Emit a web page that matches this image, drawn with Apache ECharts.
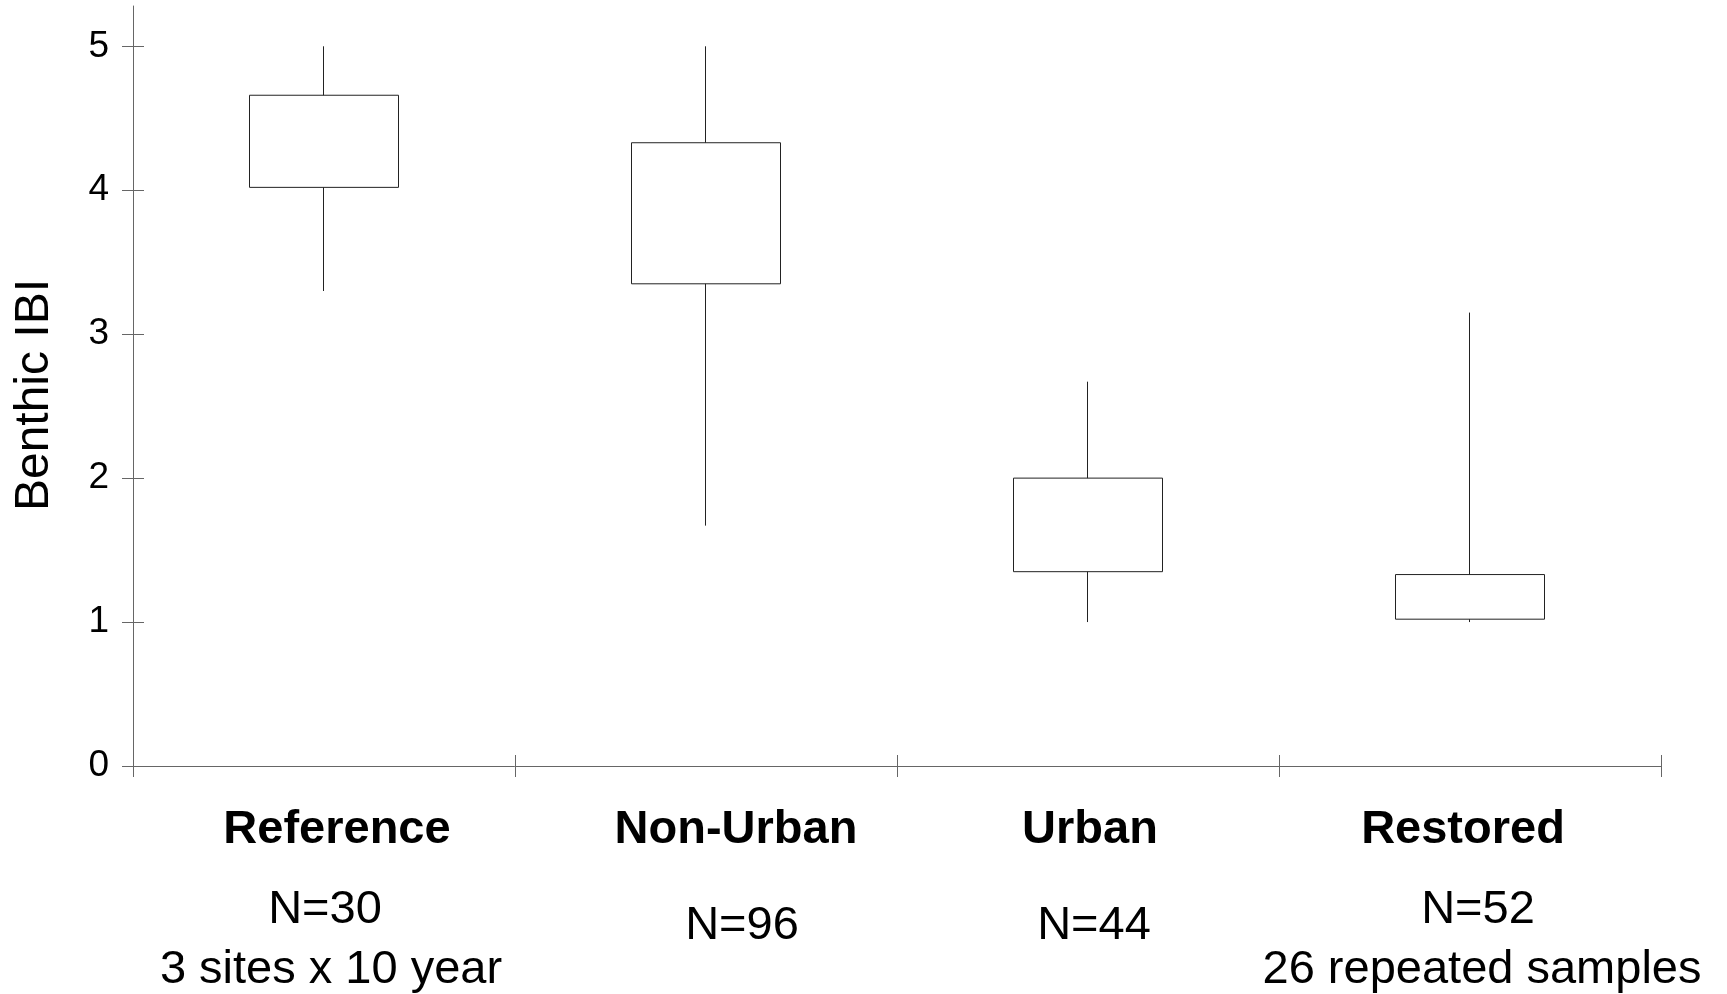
<!DOCTYPE html>
<html>
<head>
<meta charset="utf-8">
<title>Benthic IBI by site type</title>
<script src="https://cdn.jsdelivr.net/npm/echarts@6/dist/echarts.min.js"></script>
<style>
  html, body { margin: 0; padding: 0; background: #fff; }
  #chart { width: 1727px; height: 994px; }
</style>
</head>
<body>
<div id="chart"></div>
<script>
// Site groups and their Benthic IBI distributions
const categories = ['Reference', 'Non-Urban', 'Urban', 'Restored'];
const q1 = [4.02, 3.35, 1.35, 1.02];      // lower quartile
const q3 = [4.66, 4.33, 2.00, 1.33];      // upper quartile
const lows = [3.30, 1.67, 1.00, 1.00];    // whisker minimum
const highs = [5.00, 5.00, 2.67, 3.15];   // whisker maximum
const sampleSizes = ['N=30', 'N=96', 'N=44', 'N=52'];
const sampleNotes = ['3 sites x 10 year', '', '', '26 repeated samples'];
const yTicks = [0, 1, 2, 3, 4, 5];

// Horizontal nudges (px) for the category text lines
const nameShift = [13, 30, 2, -7];
const countShift = [1, 36, 6, 8];
const noteShift = [7, 0, 0, 12];

const FONT = "'Liberation Sans', Arial, Helvetica, sans-serif";
const AXIS_COLOR = '#666';
const BOX_COLOR = '#222';

function shiftPad(d) {
  return d >= 0 ? [0, 0, 0, 2 * d] : [0, -2 * d, 0, 0];
}

const rich = {};
categories.forEach((c, i) => {
  rich['b' + i] = { fontFamily: FONT, fontSize: 47, fontWeight: 'bold', color: '#000', lineHeight: 100, padding: shiftPad(nameShift[i]) };
  rich['n' + i] = { fontFamily: FONT, fontSize: 47, color: '#000', lineHeight: 60, padding: shiftPad(countShift[i]) };
  rich['m' + i] = { fontFamily: FONT, fontSize: 47, color: '#000', lineHeight: 93, padding: shiftPad(countShift[i]) };
  rich['s' + i] = { fontFamily: FONT, fontSize: 47, color: '#000', lineHeight: 60, padding: shiftPad(noteShift[i]) };
});

function categoryLabel(value, index) {
  if (sampleNotes[index]) {
    return '{b' + index + '|' + value + '}\n{n' + index + '|' + sampleSizes[index] + '}\n{s' + index + '|' + sampleNotes[index] + '}';
  }
  return '{b' + index + '|' + value + '}\n{m' + index + '|' + sampleSizes[index] + '}';
}

// Candlestick rows: [open, close, lowest, highest] = [Q1, Q3, min, max]
const boxes = categories.map((c, i) => [q1[i], q3[i], lows[i], highs[i]]);

const axisLine = { show: true, onZero: false, lineStyle: { color: AXIS_COLOR, width: 1 } };
const tickStyle = { color: AXIS_COLOR, width: 1 };

const chart = echarts.init(document.getElementById('chart'), null, { renderer: 'canvas' });
chart.setOption({
  animation: false,
  backgroundColor: '#fff',
  grid: { left: 133, right: 66, top: 6, bottom: 228, containLabel: false },
  xAxis: [
    {
      type: 'category',
      data: categories,
      position: 'bottom',
      boundaryGap: true,
      axisLine: axisLine,
      axisTick: { show: true, inside: false, length: 11, lineStyle: tickStyle },
      axisLabel: {
        interval: 0,
        margin: 14,
        formatter: categoryLabel,
        rich: rich
      },
      splitLine: { show: false }
    },
    {
      type: 'category',
      data: categories,
      position: 'bottom',
      boundaryGap: true,
      axisLine: { show: false },
      axisTick: { show: true, inside: true, length: 11, lineStyle: tickStyle },
      axisLabel: { show: false },
      splitLine: { show: false }
    }
  ],
  yAxis: [
    {
      type: 'value',
      min: 0,
      max: 5.28,
      position: 'left',
      name: 'Benthic IBI',
      nameLocation: 'middle',
      nameGap: 74,
      nameTextStyle: { fontFamily: FONT, fontSize: 48, color: '#000', padding: [0, 18, 0, 0] },
      axisLine: axisLine,
      axisTick: { show: true, inside: false, length: 11, lineStyle: tickStyle, customValues: yTicks },
      axisLabel: { fontFamily: FONT, fontSize: 37, color: '#000', margin: 24, customValues: yTicks },
      splitLine: { show: false }
    },
    {
      type: 'value',
      min: 0,
      max: 5.28,
      position: 'left',
      axisLine: { show: false },
      axisTick: { show: true, inside: true, length: 11, lineStyle: tickStyle, customValues: yTicks },
      axisLabel: { show: false, customValues: yTicks },
      splitLine: { show: false }
    }
  ],
  series: [
    {
      type: 'candlestick',
      xAxisIndex: 0,
      yAxisIndex: 0,
      data: boxes,
      barWidth: '39.3%',
      itemStyle: {
        color: '#fff',
        color0: '#fff',
        borderColor: BOX_COLOR,
        borderColor0: BOX_COLOR,
        borderWidth: 1
      }
    }
  ]
});
</script>
</body>
</html>
